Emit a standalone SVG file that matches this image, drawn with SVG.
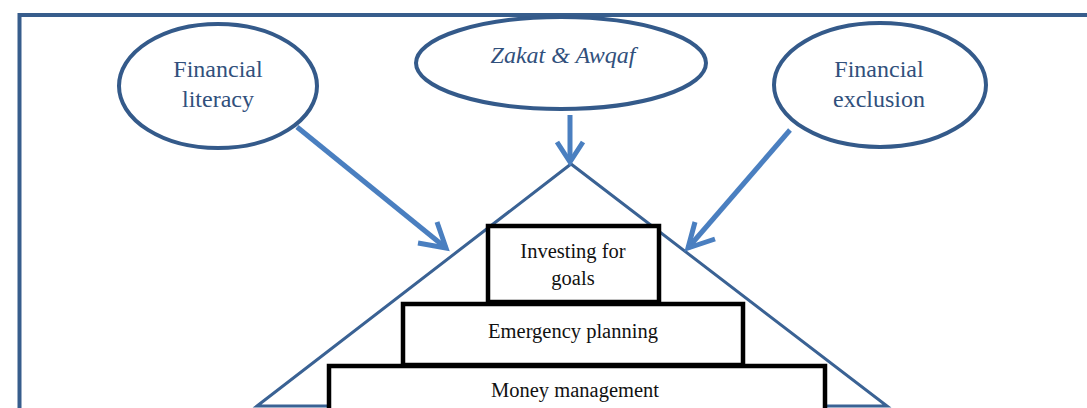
<svg xmlns="http://www.w3.org/2000/svg" width="1087" height="408" viewBox="0 0 1087 408">
  <style>
    .frame { fill: none; stroke: #375d8c; stroke-width: 4; }
    .oval { fill: #ffffff; stroke: #345a8a; stroke-width: 4; }
    .oval-text { font-family: "Liberation Serif", "DejaVu Serif", "Times New Roman", serif; font-size: 24px; fill: #31507c; text-anchor: middle; }
    .pyramid { fill: none; stroke: #3a6294; stroke-width: 3; stroke-linejoin: miter; }
    .step { fill: #ffffff; stroke: #000000; stroke-width: 4.5; }
    .step-text { font-family: "Liberation Serif", "DejaVu Serif", "Times New Roman", serif; font-size: 20.5px; fill: #111111; text-anchor: middle; }
    .link { fill: none; stroke: #4a7fc0; stroke-width: 5; stroke-linecap: butt; stroke-linejoin: miter; }
  </style>

  <rect width="1087" height="408" fill="#ffffff"/>

  <!-- outer frame -->
  <path class="frame" d="M19.5,412 V15 H1092"/>

  <!-- pyramid outline -->
  <g id="pyramid">
    <path class="pyramid" d="M257,406 L571,164 L887,406 Z"/>
  </g>

  <!-- pyramid levels -->
  <g id="money-management">
    <rect class="step" x="329" y="366" width="496" height="60"/>
    <text class="step-text" x="575" y="397">Money management</text>
  </g>
  <g id="emergency-planning">
    <rect class="step" x="403" y="304" width="340" height="61"/>
    <text class="step-text" x="573" y="338">Emergency planning</text>
  </g>
  <g id="investing-for-goals">
    <rect class="step" x="488" y="226" width="171" height="76"/>
    <text class="step-text" x="573" y="258">Investing for</text>
    <text class="step-text" x="573" y="285">goals</text>
  </g>

  <!-- influencing factors -->
  <g id="financial-literacy">
    <ellipse class="oval" cx="218" cy="86" rx="99" ry="62"/>
    <text class="oval-text" x="218" y="77">Financial</text>
    <text class="oval-text" x="218" y="107">literacy</text>
  </g>
  <g id="zakat-awqaf">
    <ellipse class="oval" cx="561" cy="63" rx="145" ry="46"/>
    <text class="oval-text" x="563" y="63" font-style="italic">Zakat &amp; Awqaf</text>
  </g>
  <g id="financial-exclusion">
    <ellipse class="oval" cx="880" cy="85" rx="106" ry="62"/>
    <text class="oval-text" x="879" y="77">Financial</text>
    <text class="oval-text" x="879" y="107">exclusion</text>
  </g>

  <!-- connectors -->
  <g id="connectors">
    <path class="link" d="M297,127 L446,248"/>
    <path class="link" d="M437,222 L446,248 L418,243"/>

    <path class="link" d="M570,115 L570,162"/>
    <path class="link" d="M557,142 L570,162 L583,142"/>

    <path class="link" d="M790,130 L688,248"/>
    <path class="link" d="M695,222 L688,248 L715,239"/>
  </g>
</svg>
